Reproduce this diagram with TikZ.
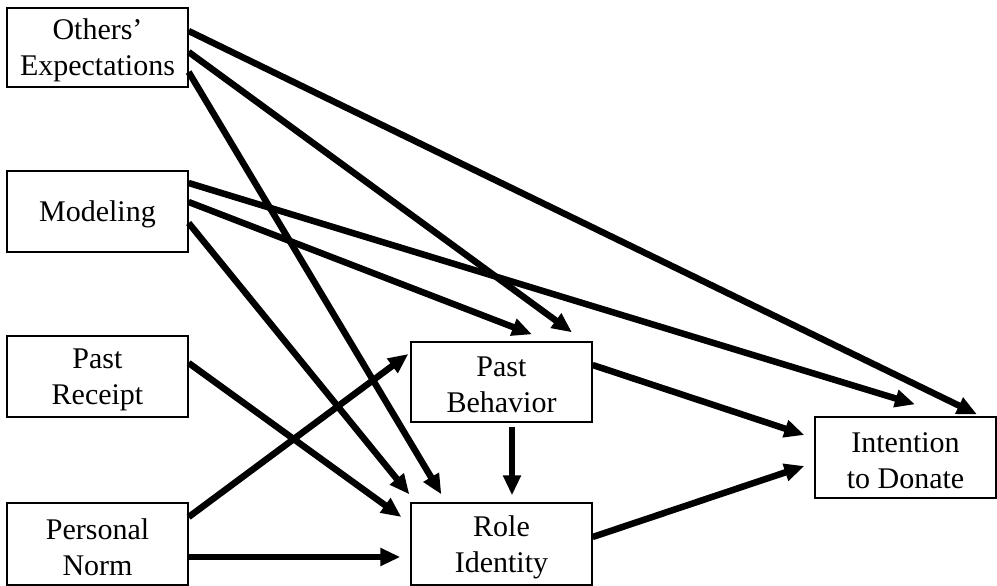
\documentclass[tikz,border=0pt]{standalone}
\usepackage{fontspec}
\setmainfont{Liberation Serif}
\usetikzlibrary{arrows.meta}
\begin{document}
\begin{tikzpicture}[x=1pt,y=1pt,
  box/.style={draw, line width=1.3pt, rectangle, inner sep=0pt, minimum width=181pt},
  txt/.style={inner sep=0pt, align=center, font=\fontsize{30}{36}\selectfont},
  arr/.style={line width=6.5pt, -{Triangle[length=20pt,width=17pt]}}]
\useasboundingbox (0,0) rectangle (997,-586);
\node[box, minimum height=79pt] (oe) at (97.5,-47.5) {};
\node[box, minimum height=81pt] (mod) at (97.5,-211.5) {};
\node[box, minimum height=81pt] (pr) at (97.5,-376.5) {};
\node[box, minimum height=82pt] (pn) at (97.5,-544) {};
\node[box, minimum height=80pt] (pb) at (501.5,-382) {};
\node[box, minimum height=82pt] (ri) at (501.5,-544) {};
\node[box, minimum height=81pt] (itd) at (905.5,-457.5) {};
\node[txt] (oe-t) at ([yshift=-3pt]oe.center) {Others’\\Expectations};
\node[txt] (mod-t) at ([yshift=-3pt]mod.center) {Modeling};
\node[txt] (pr-t) at ([yshift=-3pt]pr.center) {Past\\Receipt};
\node[txt] (pn-t) at ([yshift=-3pt]pn.center) {Personal\\Norm};
\node[txt] (pb-t) at ([yshift=-3pt]pb.center) {Past\\Behavior};
\node[txt] (ri-t) at ([yshift=-3pt]ri.center) {Role\\Identity};
\node[txt] (itd-t) at ([yshift=-3pt]itd.center) {Intention\\to Donate};
% Others' Expectations
\draw[arr] ([yshift=16.5pt]oe.east) -- ([xshift=71.5pt,yshift=2pt]itd.north);
\draw[arr] ([yshift=-4.5pt]oe.east) -- ([xshift=70.5pt,yshift=9pt]pb.north);
\draw[arr] ([yshift=-24.5pt]oe.east) -- ([xshift=31pt,yshift=8pt]ri.north west);
% Modeling
\draw[arr] ([yshift=28.5pt]mod.east) -- ([xshift=9.5pt,yshift=12pt]itd.north);
\draw[arr] ([yshift=9.5pt]mod.east) -- ([xshift=30.5pt,yshift=7pt]pb.north);
\draw[arr] ([yshift=-11.5pt]mod.east) -- ([xshift=-1pt,yshift=8pt]ri.north west);
% Past Receipt
\draw[arr] ([yshift=13.5pt]pr.east) -- ([xshift=-9pt,yshift=27pt]ri.west);
% Personal Norm
\draw[arr] ([yshift=27pt]pn.east) -- ([xshift=-2pt,yshift=28pt]pb.west);
\draw[arr] ([yshift=-13pt]pn.east) -- ([xshift=-10pt,yshift=-13pt]ri.west);
% Past Behavior
\draw[arr] ([yshift=17pt]pb.east) -- ([xshift=-10pt,yshift=22.5pt]itd.west);
\draw[arr] ([xshift=10.5pt,yshift=-4pt]pb.south) -- ([xshift=10.5pt,yshift=7pt]ri.north);
% Role Identity
\draw[arr] ([yshift=7pt]ri.east) -- ([xshift=-10pt,yshift=-8.5pt]itd.west);
\end{tikzpicture}
\end{document}
